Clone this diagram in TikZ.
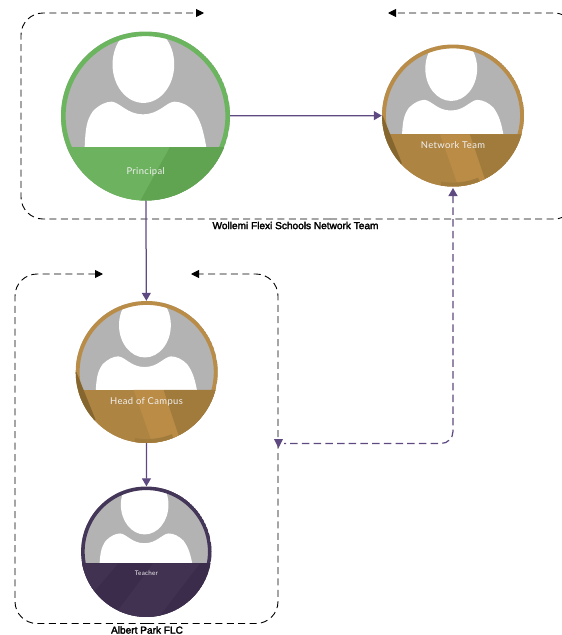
\documentclass[tikz,border=0pt]{standalone}
\usepackage{fontspec}
\setmainfont{Liberation Sans}
\newfontfamily\framefont[FakeBold=2.5]{Liberation Sans}
\newfontfamily\personfont[LetterSpace=4]{Lato}
\usetikzlibrary{arrows.meta}
\definecolor{linkc}{HTML}{5E4A80}
\definecolor{greyc}{HTML}{B3B3B3}
\definecolor{greenring}{HTML}{6BB55F}
\definecolor{greenlight}{HTML}{6DB25F}
\definecolor{greendark}{HTML}{60A350}
\definecolor{goldring}{HTML}{B98D48}
\definecolor{goldbase}{HTML}{AE8443}
\definecolor{goldlight}{HTML}{BA8C46}
\definecolor{golddark}{HTML}{A17B3C}
\definecolor{goldwedge}{HTML}{86662F}
\definecolor{purplering}{HTML}{443658}
\definecolor{purplebase}{HTML}{3B2C4C}
\definecolor{purplelight}{HTML}{413251}
\tikzset{
  framepath/.style={draw=black,line width=0.9pt,dash pattern=on 7pt off 4.4pt,rounded corners=22pt,-{Triangle[length=8pt,width=8pt]}},
  linkpath/.style={draw=linkc,line width=1.25pt,-{Triangle[length=8pt,width=9pt,fill=linkc]}},
  linkdash/.style={draw=linkc,line width=1.25pt,dash pattern=on 7.5pt off 4.2pt,rounded corners=12pt,{Triangle[length=8pt,width=9pt,fill=linkc]}-},
  portrait/.style={circle,inner sep=0pt,minimum size=#1},
  personlabel/.style={text=white!94!black,font=\personfont,inner sep=0pt},
  framelabel/.style={font=\framefont,inner sep=0pt,text=black}
}
% #1 cx, #2 cy, #3 r, #4 vertical shift of silhouette, #5 band top, #6 ring colour, #7 band base, #8 facets
\newcommand{\portraitart}[8]{%
  \begin{scope}[shift={(#1,#2)},x=#3pt,y=-#3pt]
    \begin{scope}
      \clip (0,0) circle [radius=1];
      \fill[greyc] (-1,-1) rectangle (1,1);
      \begin{scope}[shift={(0,#4)}]
        \fill[white] (-.025,-.61) ellipse [x radius=.365,y radius=.455];
        \fill[white] (-.72,1.2) -- (-.72,.37) .. controls (-.71,.15) and (-.7,.05) .. (-.62,-.06)
          .. controls (-.55,-.13) and (-.47,-.17) .. (-.40,-.17)
          .. controls (-.30,-.16) and (-.22,-.02) .. (-.03,-.02)
          .. controls (.16,-.02) and (.24,-.16) .. (.34,-.17)
          .. controls (.42,-.17) and (.5,-.13) .. (.57,-.06)
          .. controls (.65,.05) and (.68,.15) .. (.72,.37) -- (.72,1.2) -- cycle;
      \end{scope}
      \draw[#6,line width=.055*#3pt] (0,0) circle [radius=.9725];
      \fill[#7] (-1,#5) rectangle (1,1);
      #8
    \end{scope}
  \end{scope}}
\newcommand{\goldfacets}[1]{%
  \fill[goldlight] (-.183,#1) -- (.239,#1) -- (.45,.894) -- (.52,1.1) -- (.11,1.1) -- cycle;
  \fill[golddark] (.239,#1) -- (1.1,#1) -- (1.1,1.1) -- (.52,1.1) -- cycle;
  \fill[goldwedge] (-.99,0) -- (-.72,.673) -- (-1.1,.9) -- (-1.2,0) -- cycle;
  \draw[golddark,line width=3.9pt] (100:.9725) arc [start angle=100,end angle=68,radius=.9725];
}
\begin{document}
\begin{tikzpicture}[x=1pt,y=-1pt]
  \useasboundingbox (0,0) rectangle (562,635);
  % portraits
  \portraitart{145.5}{116}{84.5}{0}{.367}{greenring}{greenlight}{%
    \fill[greendark] (.29,.367) -- (1.1,.367) -- (1.1,1.1) -- (-.115,1.1) -- cycle;}
  \portraitart{453}{115.5}{71}{-.05}{.265}{goldring}{goldbase}{\goldfacets{.265}}
  \portraitart{146.7}{372}{71}{-.05}{.253}{goldring}{goldbase}{\goldfacets{.253}}
  \portraitart{146.3}{551.7}{65.2}{-.11}{.178}{purplering}{purplebase}{%
    \fill[purplelight] (.107,.178) -- (.824,.178) -- (.236,.945) -- (.15,1.1) -- (-.55,1.1) -- (-.43,.894) -- cycle;
    \fill[purplelight] (-1.1,.178) -- (-.43,.178) -- (-.736,.537) -- (-1.1,.95) -- cycle;}
  % nodes
  \node[portrait=169pt] (principal) at (145.5,116) {};
  \node[portrait=142pt] (network) at (453,115.5) {};
  \node[portrait=142pt] (head) at (146.7,372) {};
  \node[portrait=130.4pt] (teacher) at (146.3,551.7) {};
  \node[personlabel,font=\personfont\fontsize{9.4pt}{11pt}\selectfont] (principaltext) at (145.7,171.5) {Principal};
  \node[personlabel,font=\personfont\fontsize{9.4pt}{11pt}\selectfont] (networktext) at (453,145.5) {Network Team};
  \node[personlabel,font=\personfont\fontsize{9.4pt}{11pt}\selectfont] (headtext) at (146.5,401.5) {Head of Campus};
  \node[personlabel,font=\personfont\fontsize{6.3pt}{8pt}\selectfont] (teachertext) at (146.5,573) {Teacher};
  \node[framelabel,font=\framefont\fontsize{10.1pt}{11pt}\selectfont] (bigname) at (295.5,225.5) {Wollemi Flexi Schools Network Team};
  \node[framelabel,font=\framefont\fontsize{10.1pt}{11pt}\selectfont] (smallname) at (147,630) {Albert Park FLC};
  % dashed frames
  \coordinate (a1) at (204,13);
  \coordinate (a2) at (388,13);
  \coordinate (b1) at (103,274);
  \coordinate (b2) at (191,274);
  \coordinate (m) at (330,219);
  \coordinate (n) at (147,623.5);
  \draw[framepath] (m) -- (21,219) -- (21,13) -- (a1);
  \draw[framepath] (m) -- (576,219) -- (576,13) -- (a2);
  \draw[framepath] (n) -- (15,623.5) -- (15,274) -- (b1);
  \draw[framepath] (n) -- (278,623.5) -- (278,274) -- (b2);
  % connectors
  \coordinate (lt) at (284,443.5);
  \coordinate (ltup) at (278.5,439);
  \coordinate (ltdown) at (278.5,448);
  \coordinate (ntop) at (453,188);
  \draw[linkpath] (principal) -- (network);
  \draw[linkpath] (principal) -- (head);
  \draw[linkpath] (head) -- (teacher);
  \draw[linkdash] (ntop) -- (453,443.5) -- (lt);
  \draw[linkpath,-{Triangle[length=9pt,width=9pt,fill=linkc]},line width=0pt] (ltup) -- (ltdown);
\end{tikzpicture}
\end{document}
